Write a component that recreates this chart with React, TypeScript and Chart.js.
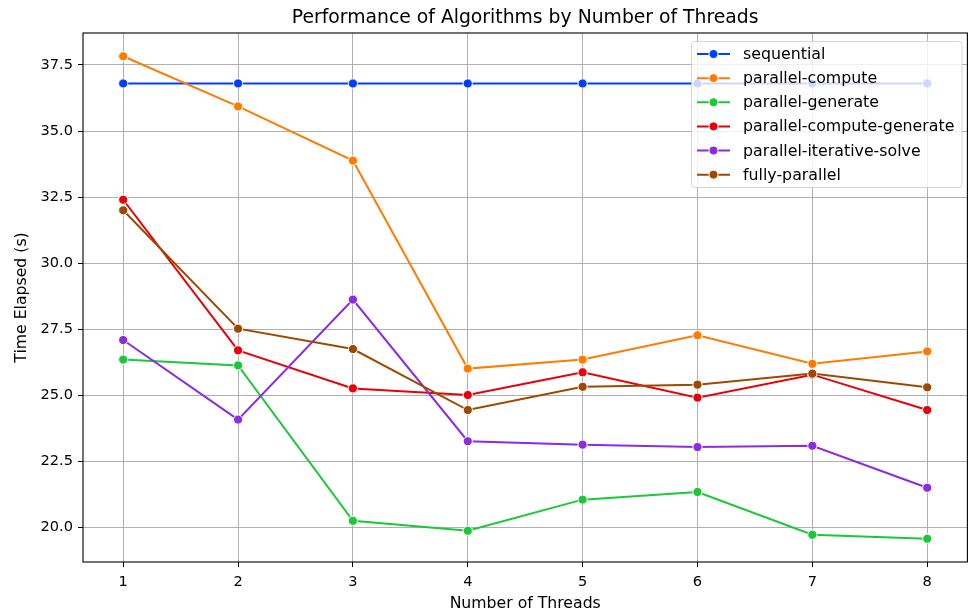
import React, { useEffect, useRef } from "react";
import { Chart, registerables } from "chart.js";

Chart.register(...registerables);

const threads = [1, 2, 3, 4, 5, 6, 7, 8];
const seriesNames = [
  "sequential",
  "parallel-compute",
  "parallel-generate",
  "parallel-compute-generate",
  "parallel-iterative-solve",
  "fully-parallel",
];
const sequential = [36.8, 36.8, 36.8, 36.8, 36.8, 36.8, 36.8, 36.8];
const parallelCompute = [37.83, 35.93, 33.88, 26.01, 26.35, 27.27, 26.19, 26.66];
const parallelGenerate = [26.35, 26.13, 20.25, 19.87, 21.05, 21.34, 19.72, 19.57];
const parallelComputeGenerate = [32.4, 26.7, 25.26, 25.01, 25.87, 24.91, 25.78, 24.44];
const parallelIterativeSolve = [27.09, 24.08, 28.62, 23.26, 23.13, 23.04, 23.09, 21.5];
const fullyParallel = [32.0, 27.52, 26.75, 24.44, 25.32, 25.4, 25.82, 25.3];
const seriesColors = ["#023eff", "#ff7c00", "#1ac938", "#e8000b", "#8b2be2", "#9f4800"];
const yTicks = [20, 22.5, 25, 27.5, 30, 32.5, 35, 37.5];
const xTicks = threads;

const allSeries = [
  sequential,
  parallelCompute,
  parallelGenerate,
  parallelComputeGenerate,
  parallelIterativeSolve,
  fullyParallel,
];

const FONT = "'DejaVu Sans', sans-serif";

const decorPlugin = {
  id: "decor",
  afterDatasetsDraw(chart: any) {
    const { ctx, chartArea } = chart;
    const { left, right, top, bottom } = chartArea;
    ctx.save();
    ctx.strokeStyle = "#000";
    ctx.lineWidth = 1.1;
    ctx.strokeRect(left, top, right - left, bottom - top);
    ctx.restore();
  },
  afterDraw(chart: any) {
    const { ctx, chartArea } = chart;
    const { left, right, top, bottom } = chartArea;
    const cx = (left + right) / 2;
    ctx.save();
    ctx.fillStyle = "#000";
    ctx.textAlign = "center";
    ctx.textBaseline = "alphabetic";
    ctx.font = `18.8px ${FONT}`;
    ctx.fillText("Performance of Algorithms by Number of Threads", cx, 23);
    ctx.font = `15.7px ${FONT}`;
    ctx.fillText("Number of Threads", cx, 607.5);
    ctx.save();
    ctx.translate(26, (top + bottom) / 2);
    ctx.rotate(-Math.PI / 2);
    ctx.fillText("Time Elapsed (s)", 0, 0);
    ctx.restore();

    // legend
    const lx = 691.5, ly = 41.5, lw = 270.5, lh = 146, r = 3;
    ctx.beginPath();
    ctx.moveTo(lx + r, ly);
    ctx.lineTo(lx + lw - r, ly);
    ctx.quadraticCurveTo(lx + lw, ly, lx + lw, ly + r);
    ctx.lineTo(lx + lw, ly + lh - r);
    ctx.quadraticCurveTo(lx + lw, ly + lh, lx + lw - r, ly + lh);
    ctx.lineTo(lx + r, ly + lh);
    ctx.quadraticCurveTo(lx, ly + lh, lx, ly + lh - r);
    ctx.lineTo(lx, ly + r);
    ctx.quadraticCurveTo(lx, ly, lx + r, ly);
    ctx.closePath();
    ctx.fillStyle = "rgba(255,255,255,0.8)";
    ctx.fill();
    ctx.strokeStyle = "rgba(204,204,204,0.8)";
    ctx.lineWidth = 1;
    ctx.stroke();

    ctx.textAlign = "left";
    ctx.textBaseline = "middle";
    ctx.font = `15.8px ${FONT}`;
    seriesNames.forEach((name, i) => {
      const y = 54 + i * 24.13;
      ctx.strokeStyle = seriesColors[i];
      ctx.lineWidth = 2;
      ctx.beginPath();
      ctx.moveTo(697, y);
      ctx.lineTo(730, y);
      ctx.stroke();
      ctx.beginPath();
      ctx.arc(713.5, y, 4.5, 0, Math.PI * 2);
      ctx.fillStyle = seriesColors[i];
      ctx.fill();
      ctx.strokeStyle = "#fff";
      ctx.lineWidth = 1;
      ctx.stroke();
      ctx.fillStyle = "#000";
      ctx.fillText(name, 743, y + 1);
    });
    ctx.restore();
  },
};

export default function App() {
  const ref = useRef<HTMLCanvasElement>(null);

  useEffect(() => {
    if (!ref.current) return;
    const datasets = seriesNames.map((name, i) => ({
      label: name,
      data: threads.map((t, j) => ({ x: t, y: allSeries[i][j] })),
      borderColor: seriesColors[i],
      backgroundColor: seriesColors[i],
      pointBackgroundColor: seriesColors[i],
      pointBorderColor: "#fff",
      pointBorderWidth: 1,
      pointRadius: 4.6,
      borderWidth: 2,
      tension: 0,
      fill: false,
      order: seriesNames.length - i,
    }));

    const chart = new Chart(ref.current, {
      type: "line",
      data: { datasets },
      options: {
        animation: false,
        responsive: false,
        devicePixelRatio: 1,
        layout: { padding: { top: 33, right: 3, bottom: 0, left: 0 } },
        plugins: {
          legend: { display: false },
          title: { display: false },
          tooltip: { enabled: false },
        },
        scales: {
          x: {
            type: "linear",
            min: 0.65,
            max: 8.35,
            afterBuildTicks: (scale: any) => {
              scale.ticks = xTicks.map((v) => ({ value: v }));
            },
            afterFit: (scale: any) => {
              scale.height = 51;
            },
            ticks: {
              color: "#000",
              font: { family: FONT, size: 14.6 },
              padding: 6,
              maxRotation: 0,
              autoSkip: false,
              callback: (v: any) => String(v),
            },
            grid: {
              color: "#b0b0b0",
              lineWidth: 1,
              tickColor: "#000",
              tickLength: 5,
              drawTicks: true,
            },
            border: { display: false },
          },
          y: {
            type: "linear",
            min: 18.69,
            max: 38.71,
            afterBuildTicks: (scale: any) => {
              scale.ticks = yTicks.map((v) => ({ value: v }));
            },
            afterFit: (scale: any) => {
              scale.width = 83;
            },
            ticks: {
              color: "#000",
              font: { family: FONT, size: 14.6 },
              padding: 5,
              autoSkip: false,
              callback: (v: any) => Number(v).toFixed(1),
            },
            grid: {
              color: "#b0b0b0",
              lineWidth: 1,
              tickColor: "#000",
              tickLength: 5,
              drawTicks: true,
            },
            border: { display: false },
          },
        },
      },
      plugins: [decorPlugin],
    } as any);
    return () => chart.destroy();
  }, []);

  return (
    <div style={{ position: "absolute", left: 0, top: 0, width: 973, height: 613, background: "#fff" }}>
      <canvas ref={ref} width={973} height={613} style={{ width: 973, height: 613, display: "block" }} />
    </div>
  );
}
